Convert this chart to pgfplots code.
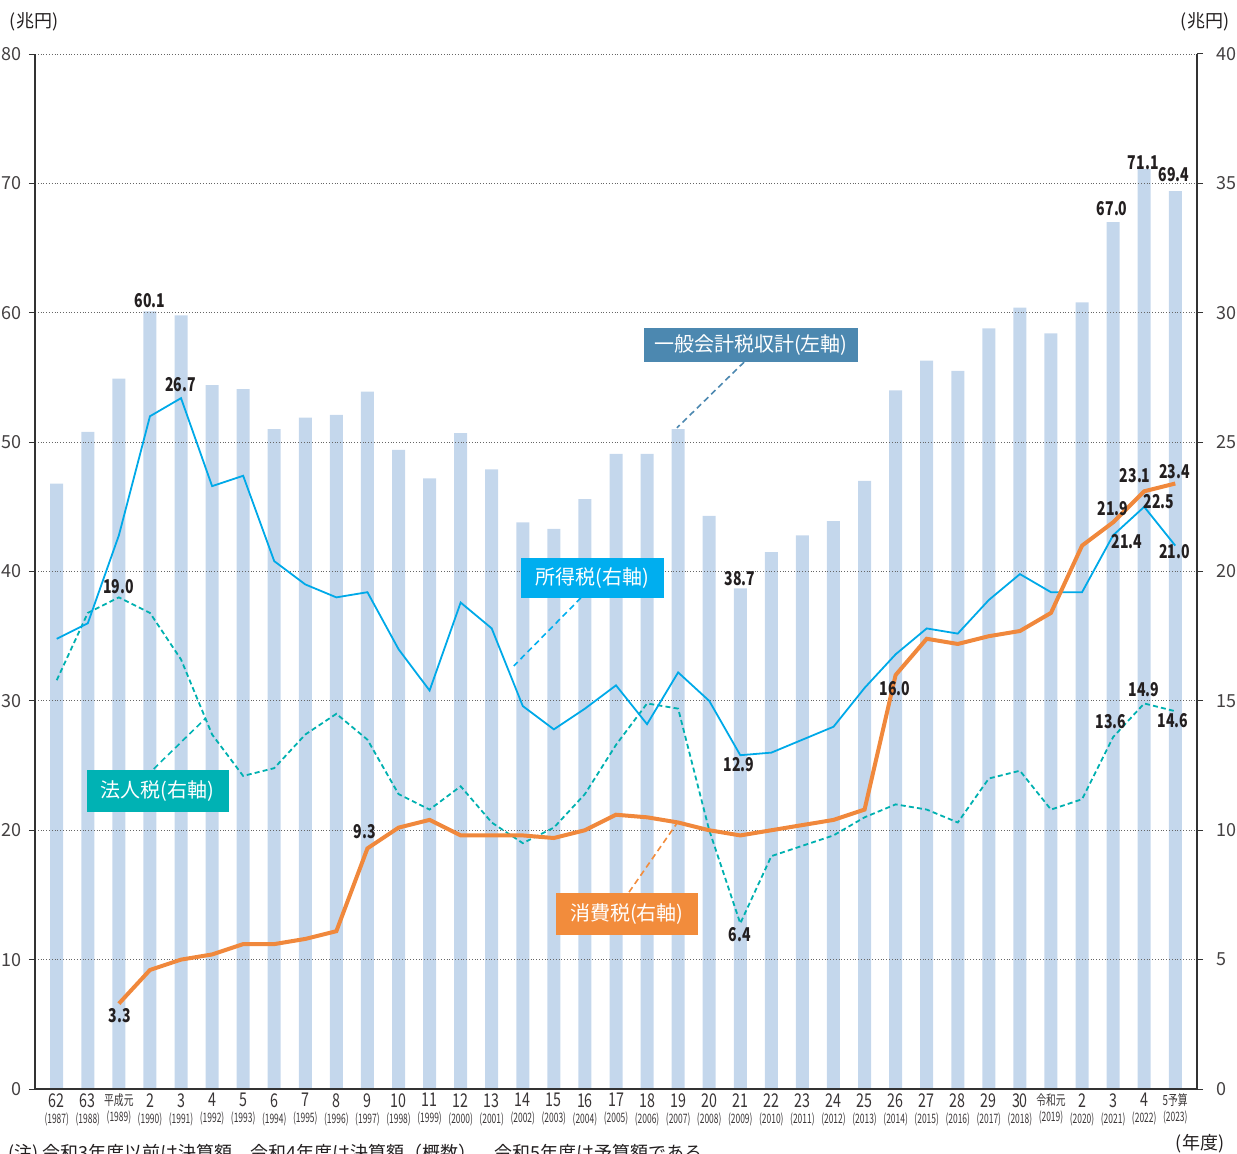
\documentclass[border=0pt]{standalone}
\usepackage{fontspec}
\setmainfont{Noto Sans CJK JP}
\usepackage{graphicx}
\usepackage{pgfplots}
\pgfplotsset{compat=1.18}
\definecolor{barc}{RGB}{196,215,236}
\definecolor{inc}{RGB}{0,169,232}
\definecolor{corp}{RGB}{0,176,176}
\definecolor{cons}{RGB}{240,136,60}
\definecolor{gen}{RGB}{76,136,176}
\definecolor{incbox}{RGB}{0,174,239}
\definecolor{corpbox}{RGB}{0,178,180}
\definecolor{consbox}{RGB}{242,140,60}
\definecolor{txt}{RGB}{35,31,32}
\newcommand{\xl}[2]{\scalebox{0.75}[1]{\fontsize{9.5}{10}\selectfont #1}\\[-4pt]\scalebox{0.65}[1]{\fontsize{6.5}{8}\selectfont (#2)}}
\newcommand{\xs}[2]{\scalebox{0.7}[1]{\fontsize{7}{10}\selectfont #1}\\[-4pt]\scalebox{0.65}[1]{\fontsize{6.5}{8}\selectfont (#2)}}
\newcommand{\dl}[1]{\scalebox{0.74}[1]{\bfseries\fontsize{9.5}{10}\selectfont #1}}
\pgfplotstableread{
x gen inc corp
0 46.8 17.4 15.8
1 50.8 18.0 18.4
2 54.9 21.4 19.0
3 60.1 26.0 18.4
4 59.8 26.7 16.6
5 54.4 23.3 13.7
6 54.1 23.7 12.1
7 51.0 20.4 12.4
8 51.9 19.5 13.7
9 52.1 19.0 14.5
10 53.9 19.2 13.5
11 49.4 17.0 11.4
12 47.2 15.4 10.8
13 50.7 18.8 11.7
14 47.9 17.8 10.3
15 43.8 14.8 9.5
16 43.3 13.9 10.1
17 45.6 14.7 11.4
18 49.1 15.6 13.3
19 49.1 14.1 14.9
20 51.0 16.1 14.7
21 44.3 15.0 10.0
22 38.7 12.9 6.4
23 41.5 13.0 9.0
24 42.8 13.5 9.4
25 43.9 14.0 9.8
26 47.0 15.5 10.5
27 54.0 16.8 11.0
28 56.3 17.8 10.8
29 55.5 17.6 10.3
30 58.8 18.9 12.0
31 60.4 19.9 12.3
32 58.4 19.2 10.8
33 60.8 19.2 11.2
34 67.0 21.4 13.6
35 71.1 22.5 14.9
36 69.4 21.0 14.6
}\maindata
\pgfplotstableread{
x cons
2 3.3
3 4.6
4 5.0
5 5.2
6 5.6
7 5.6
8 5.8
9 6.1
10 9.3
11 10.1
12 10.4
13 9.8
14 9.8
15 9.8
16 9.7
17 10.0
18 10.6
19 10.5
20 10.3
21 10.0
22 9.8
23 10.0
24 10.2
25 10.4
26 10.8
27 16.0
28 17.4
29 17.2
30 17.5
31 17.7
32 18.4
33 21.0
34 21.9
35 23.1
36 23.4
}\consdata
\begin{document}
\begin{tikzpicture}
\begin{axis}[name=ax, scale only axis, width=581pt, height=517.5pt,
  xmin=-0.7, xmax=36.7, ymin=0, ymax=80, ytick={0,10,...,80},
  axis x line*=bottom, axis y line*=left,
  axis line style={-, black!80, line width=0.6pt},
  ymajorgrids, grid style={densely dotted, black!60, line width=0.5pt},
  xtick={0,...,36}, xtick style={draw=none},
  xticklabels={{\xl{62}{1987}},{\xl{63}{1988}},{\xs{平成元}{1989}},{\xl{2}{1990}},{\xl{3}{1991}},{\xl{4}{1992}},{\xl{5}{1993}},{\xl{6}{1994}},{\xl{7}{1995}},{\xl{8}{1996}},{\xl{9}{1997}},{\xl{10}{1998}},{\xl{11}{1999}},{\xl{12}{2000}},{\xl{13}{2001}},{\xl{14}{2002}},{\xl{15}{2003}},{\xl{16}{2004}},{\xl{17}{2005}},{\xl{18}{2006}},{\xl{19}{2007}},{\xl{20}{2008}},{\xl{21}{2009}},{\xl{22}{2010}},{\xl{23}{2011}},{\xl{24}{2012}},{\xl{25}{2013}},{\xl{26}{2014}},{\xl{27}{2015}},{\xl{28}{2016}},{\xl{29}{2017}},{\xl{30}{2018}},{\xs{令和元}{2019}},{\xl{2}{2020}},{\xl{3}{2021}},{\xl{4}{2022}},{\xs{5予算}{2023}}},
  xticklabel style={align=center, inner sep=0pt, anchor=north, yshift=1pt, text=txt!90},
  ytick style={black!80, line width=0.5pt}, tick align=outside, major tick length=3pt,
  yticklabel style={font=\fontsize{9}{10}\selectfont, text=txt!85},
  /pgf/number format/assume math mode=true,
  axis on top]
\addplot[ybar, bar width=6.5pt, fill=barc, draw=none] table[x=x,y=gen]{\maindata};
\end{axis}
\begin{axis}[scale only axis, width=581pt, height=517.5pt,
  xmin=-0.7, xmax=36.7, ymin=0, ymax=40, ytick={0,5,...,40},
  axis x line=none, axis y line*=right,
  axis line style={-, black!80, line width=0.6pt},
  ytick style={black!80, line width=0.5pt}, tick align=outside, major tick length=3pt,
  yticklabel style={font=\fontsize{9}{10}\selectfont, text=txt!85, xshift=3pt},
  /pgf/number format/assume math mode=true, clip=false]
\addplot[corp, line width=0.9pt, dash pattern=on 2.5pt off 1.6pt] table[x=x,y=corp]{\maindata};
\addplot[inc, line width=0.9pt] table[x=x,y=inc]{\maindata};
\addplot[cons, line width=2pt] table[x=x,y=cons]{\consdata};
% leader lines
\draw[gen, line width=0.8pt, dash pattern=on 3pt off 2pt] (axis cs:22.12,28.09) -- (axis cs:19.96,25.55);
\draw[incbox, line width=0.8pt, dash pattern=on 3pt off 2pt] (axis cs:16.87,18.98) -- (axis cs:14.71,16.35);
\draw[corpbox, line width=0.8pt, dash pattern=on 3pt off 2pt] (axis cs:3.12,12.37) -- (axis cs:4.80,14.34);
\draw[consbox, line width=0.8pt, dash pattern=on 3pt off 2pt] (axis cs:18.42,7.61) -- (axis cs:19.99,10.32);
% boxes
\node[fill=gen, text=white, minimum width=107pt, minimum height=17pt, inner sep=0pt, font=\fontsize{10}{12}\selectfont] at (axis cs:22.34,28.75) {一般会計税収計(左軸)};
\node[fill=incbox, text=white, minimum width=71.5pt, minimum height=20pt, inner sep=0pt, font=\fontsize{10}{12}\selectfont] at (axis cs:17.24,19.75) {所得税(右軸)};
\node[fill=corpbox, text=white, minimum width=71pt, minimum height=21pt, inner sep=0pt, font=\fontsize{10}{12}\selectfont] at (axis cs:3.25,11.52) {法人税(右軸)};
\node[fill=consbox, text=white, minimum width=71pt, minimum height=21pt, inner sep=0pt, font=\fontsize{10}{12}\selectfont] at (axis cs:18.35,6.76) {消費税(右軸)};
% data labels
\begin{scope}[every node/.style={text=txt, inner sep=0pt}]
\node at (axis cs:3.0,30.46) {\dl{60.1}};
\node at (axis cs:3.99,27.21) {\dl{26.7}};
\node at (axis cs:1.99,19.4) {\dl{19.0}};
\node at (axis cs:2.03,2.82) {\dl{3.3}};
\node at (axis cs:9.91,9.93) {\dl{9.3}};
\node at (axis cs:21.99,19.71) {\dl{38.7}};
\node at (axis cs:21.96,12.52) {\dl{12.9}};
\node at (axis cs:21.99,5.95) {\dl{6.4}};
\node at (axis cs:26.98,15.46) {\dl{16.0}};
\node at (axis cs:33.97,34.01) {\dl{67.0}};
\node at (axis cs:34.97,35.79) {\dl{71.1}};
\node at (axis cs:35.96,35.33) {\dl{69.4}};
\node at (axis cs:34.0,22.45) {\dl{21.9}};
\node at (axis cs:34.71,23.69) {\dl{23.1}};
\node at (axis cs:35.97,23.85) {\dl{23.4}};
\node at (axis cs:35.48,22.72) {\dl{22.5}};
\node at (axis cs:34.45,21.14) {\dl{21.4}};
\node at (axis cs:35.97,20.75) {\dl{21.0}};
\node at (axis cs:33.93,14.18) {\dl{13.6}};
\node at (axis cs:34.99,15.42) {\dl{14.9}};
\node at (axis cs:35.93,14.23) {\dl{14.6}};
\end{scope}
\end{axis}
\node[text=txt, font=\fontsize{9}{10}\selectfont, inner sep=0pt] at ([xshift=-0.5pt,yshift=533.5pt]ax.south west) {(兆円)};
\node[text=txt, font=\fontsize{9}{10}\selectfont, inner sep=0pt] at ([xshift=585pt,yshift=533.5pt]ax.south west) {(兆円)};
\node[text=txt, font=\fontsize{9}{10}\selectfont, inner sep=0pt] at ([xshift=582.5pt,yshift=-27.5pt]ax.south west) {(年度)};
\node[text=txt, font=\fontsize{9}{10}\selectfont, inner sep=0pt, anchor=base west] at ([xshift=-13.5pt,yshift=-35pt]ax.south west) {(注) 令和3年度以前は決算額、令和4年度は決算額（概数）、令和5年度は予算額である。};
\pgfresetboundingbox
\useasboundingbox ([xshift=-17.5pt,yshift=-32pt]ax.south west) rectangle ([xshift=601pt,yshift=544.5pt]ax.south west);
\end{tikzpicture}
\end{document}
